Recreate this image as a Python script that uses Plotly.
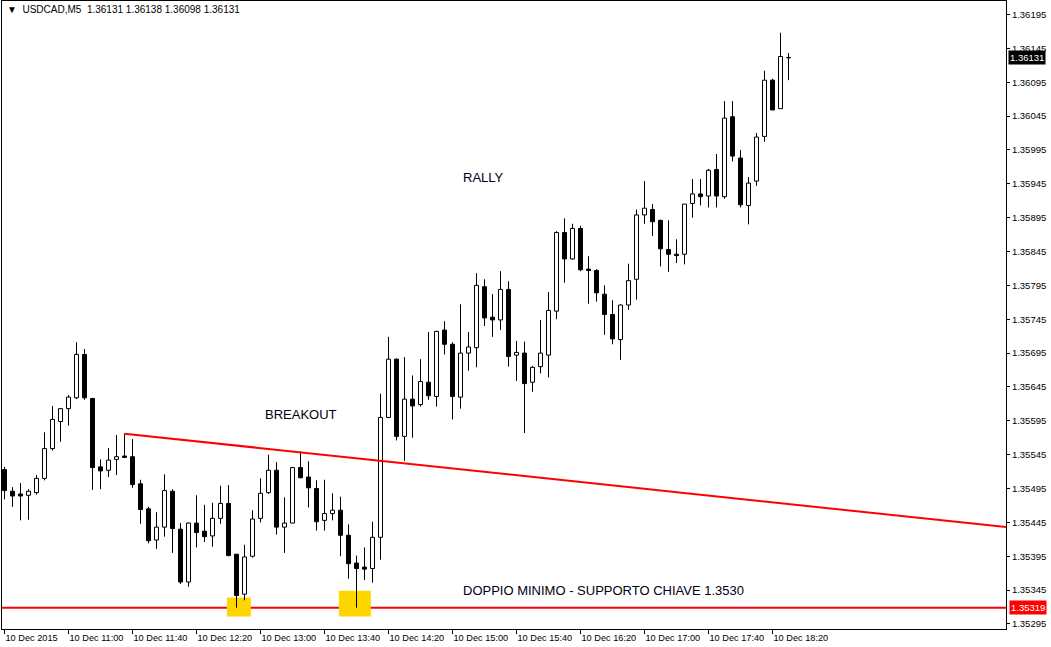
import plotly.graph_objects as go

symbol = "USDCAD,M5"

opens = [1.35523, 1.35491, 1.35487, 1.35485, 1.35489, 1.35510, 1.35554, 1.35594, 1.35613, 1.35629,
         1.35693, 1.35628, 1.35527, 1.35522, 1.35538, 1.35543, 1.35542, 1.35502, 1.35465, 1.35419,
         1.35438, 1.35491, 1.35435, 1.35357, 1.35444, 1.35432, 1.35425, 1.35451, 1.35473, 1.35398,
         1.35339, 1.35395, 1.35451, 1.35489, 1.35522, 1.35438, 1.35444, 1.35526, 1.35512, 1.35495,
         1.35448, 1.35458, 1.35463, 1.35426, 1.35385, 1.35379, 1.35377, 1.35423, 1.35600, 1.35686,
         1.35572, 1.35627, 1.35619, 1.35652, 1.35631, 1.35729, 1.35708, 1.35630, 1.35695, 1.35703,
         1.35793, 1.35748, 1.35744, 1.35789, 1.35692, 1.35695, 1.35652, 1.35675, 1.35692, 1.35757,
         1.35873, 1.35834, 1.35879, 1.35819, 1.35817, 1.35782, 1.35752, 1.35715, 1.35766, 1.35804,
         1.35899, 1.35907, 1.35891, 1.35848, 1.35841, 1.35841, 1.35916, 1.35930, 1.35927, 1.35966,
         1.35926, 1.36044, 1.35983, 1.35913, 1.35949, 1.36015, 1.36098, 1.36056, 1.36131]
highs = [1.35527, 1.35497, 1.35503, 1.35494, 1.35515, 1.35578, 1.35617, 1.35614, 1.35633, 1.35711,
         1.35701, 1.35629, 1.35538, 1.35555, 1.35574, 1.35576, 1.35568, 1.35508, 1.35468, 1.35460,
         1.35516, 1.35494, 1.35444, 1.35445, 1.35485, 1.35471, 1.35474, 1.35499, 1.35500, 1.35398,
         1.35412, 1.35463, 1.35510, 1.35545, 1.35534, 1.35482, 1.35527, 1.35550, 1.35535, 1.35507,
         1.35508, 1.35488, 1.35483, 1.35442, 1.35396, 1.35408, 1.35446, 1.35635, 1.35719, 1.35687,
         1.35689, 1.35662, 1.35686, 1.35726, 1.35728, 1.35742, 1.35711, 1.35767, 1.35726, 1.35813,
         1.35804, 1.35782, 1.35816, 1.35801, 1.35713, 1.35712, 1.35676, 1.35744, 1.35785, 1.35875,
         1.35894, 1.35886, 1.35883, 1.35838, 1.35819, 1.35795, 1.35773, 1.35767, 1.35827, 1.35907,
         1.35949, 1.35915, 1.35892, 1.35891, 1.35863, 1.35915, 1.35952, 1.35952, 1.35967, 1.35989,
         1.36067, 1.36067, 1.35995, 1.35955, 1.36020, 1.36112, 1.36100, 1.36168, 1.36138]
lows = [1.35479, 1.35468, 1.35448, 1.35449, 1.35486, 1.35507, 1.35551, 1.35564, 1.35588, 1.35627,
        1.35626, 1.35493, 1.35494, 1.35512, 1.35515, 1.35540, 1.35496, 1.35443, 1.35414, 1.35406,
        1.35424, 1.35400, 1.35354, 1.35350, 1.35408, 1.35416, 1.35409, 1.35443, 1.35395, 1.35319,
        1.35330, 1.35393, 1.35445, 1.35487, 1.35427, 1.35400, 1.35444, 1.35510, 1.35467, 1.35433,
        1.35433, 1.35448, 1.35395, 1.35362, 1.35319, 1.35360, 1.35356, 1.35390, 1.35599, 1.35566,
        1.35536, 1.35570, 1.35616, 1.35626, 1.35616, 1.35693, 1.35597, 1.35613, 1.35669, 1.35674,
        1.35735, 1.35719, 1.35729, 1.35675, 1.35654, 1.35577, 1.35638, 1.35665, 1.35659, 1.35745,
        1.35799, 1.35833, 1.35816, 1.35768, 1.35771, 1.35722, 1.35708, 1.35685, 1.35759, 1.35774,
        1.35886, 1.35868, 1.35823, 1.35815, 1.35828, 1.35826, 1.35895, 1.35913, 1.35910, 1.35910,
        1.35923, 1.35978, 1.35910, 1.35885, 1.35942, 1.36007, 1.36054, 1.36056, 1.36098]
closes = [1.35492, 1.35484, 1.35484, 1.35491, 1.35510, 1.35554, 1.35597, 1.35613, 1.35630, 1.35693,
          1.35629, 1.35526, 1.35521, 1.35537, 1.35542, 1.35541, 1.35501, 1.35464, 1.35418, 1.35438,
          1.35492, 1.35436, 1.35357, 1.35444, 1.35430, 1.35424, 1.35451, 1.35473, 1.35396, 1.35337,
          1.35394, 1.35450, 1.35488, 1.35522, 1.35438, 1.35444, 1.35526, 1.35511, 1.35496, 1.35446,
          1.35458, 1.35463, 1.35426, 1.35384, 1.35377, 1.35376, 1.35423, 1.35600, 1.35686, 1.35572,
          1.35627, 1.35617, 1.35653, 1.35632, 1.35727, 1.35708, 1.35631, 1.35695, 1.35704, 1.35795,
          1.35747, 1.35744, 1.35789, 1.35690, 1.35696, 1.35650, 1.35674, 1.35695, 1.35758, 1.35873,
          1.35834, 1.35879, 1.35818, 1.35817, 1.35784, 1.35752, 1.35716, 1.35766, 1.35802, 1.35899,
          1.35909, 1.35889, 1.35849, 1.35841, 1.35839, 1.35915, 1.35930, 1.35926, 1.35965, 1.35927,
          1.36042, 1.35986, 1.35914, 1.35946, 1.36014, 1.36098, 1.36054, 1.36133, 1.36131]

x_tick_index = [0, 8, 16, 24, 32, 40, 48, 56, 64, 72, 80, 88, 96]
x_tick_labels = ["10 Dec 2015", "10 Dec 11:00", "10 Dec 11:40", "10 Dec 12:20", "10 Dec 13:00",
                 "10 Dec 13:40", "10 Dec 14:20", "10 Dec 15:00", "10 Dec 15:40", "10 Dec 16:20",
                 "10 Dec 17:00", "10 Dec 17:40", "10 Dec 18:20"]
y_tick_values = [1.35295, 1.35345, 1.35395, 1.35445, 1.35495, 1.35545, 1.35595, 1.35645, 1.35695,
                 1.35745, 1.35795, 1.35845, 1.35895, 1.35945, 1.35995, 1.36045, 1.36095, 1.36145,
                 1.36195]

support_level = 1.35319
trend_x = [15, 125.25]
trend_y = [1.35576, 1.35438]
double_bottom_idx = [29, 44]

n = len(opens)
xs = list(range(n))

# bodies
body_base = []
body_h = []
body_fill = []
min_h = 0.000004
for o, c in zip(opens, closes):
    lo, hi = min(o, c), max(o, c)
    h = max(hi - lo, min_h)
    body_base.append(lo)
    body_h.append(h)
    body_fill.append("#ffffff" if c >= o else "#000000")

# wicks (split into upper and lower parts so they do not cross the bodies)
wx, wy = [], []
for i in xs:
    top = max(opens[i], closes[i])
    bot = min(opens[i], closes[i])
    if highs[i] > top:
        wx += [i, i, None]
        wy += [top, highs[i], None]
    if lows[i] < bot:
        wx += [i, i, None]
        wy += [bot, lows[i], None]

fig = go.Figure()
fig.add_trace(go.Scatter(x=wx, y=wy, mode="lines", line=dict(color="black", width=1),
                         hoverinfo="skip", showlegend=False))
fig.add_trace(go.Bar(x=xs, y=body_h, base=body_base, width=0.5,
                     marker=dict(color=body_fill, line=dict(color="black", width=1)),
                     showlegend=False))
fig.add_trace(go.Scatter(x=trend_x, y=trend_y, mode="lines", line=dict(color="#ff0000", width=2),
                         hoverinfo="skip", showlegend=False))

shapes = []
# yellow highlight boxes at the double bottom
shapes.append(dict(type="rect", xref="x", yref="y", x0=double_bottom_idx[0] - 1.2, x1=double_bottom_idx[0] + 1.8,
                   y0=1.35306, y1=1.35334, fillcolor="#ffd700", line=dict(width=0), layer="below"))
shapes.append(dict(type="rect", xref="x", yref="y", x0=double_bottom_idx[1] - 2.2, x1=double_bottom_idx[1] + 1.8,
                   y0=1.35306, y1=1.35344, fillcolor="#ffd700", line=dict(width=0), layer="below"))
shapes.append(dict(type="line", xref="paper", yref="y", x0=0, x1=1, y0=support_level, y1=support_level,
                   line=dict(color="#ff0000", width=2), layer="below"))

font_axis = "Liberation Sans, Arial, sans-serif"
annotations = [
    dict(xref="paper", yref="paper", x=0.003, y=0.999, xanchor="left", yanchor="top", showarrow=False,
         text="\u25BC  " + symbol + "\u00A0\u00A0" + " ".join(f"{v:.5f}" for v in (opens[-1], highs[-1], lows[-1], closes[-1])),
         font=dict(family=font_axis, size=10, color="black")),
    dict(x=59.9, y=1.35955, xref="x", yref="y", text="RALLY", showarrow=False,
         font=dict(family=font_axis, size=13, color="#000010")),
    dict(x=37.0, y=1.35605, xref="x", yref="y", text="BREAKOUT", showarrow=False,
         font=dict(family=font_axis, size=13, color="#000010")),
    dict(x=74.9, y=1.35345, xref="x", yref="y", text="DOPPIO MINIMO - SUPPORTO CHIAVE 1.3530", showarrow=False,
         font=dict(family=font_axis, size=13, color="#000010")),
    dict(xref="paper", yref="y", x=1, y=closes[-1], xanchor="left", xshift=2, text=f"{closes[-1]:.5f}",
         showarrow=False, bgcolor="#000000", borderpad=1, font=dict(family=font_axis, size=9.5, color="white")),
    dict(xref="paper", yref="y", x=1, y=support_level, xanchor="left", xshift=3, text=f"{support_level:.5f}",
         showarrow=False, bgcolor="#ff0000", borderpad=1, font=dict(family=font_axis, size=9.5, color="white")),
]

fig.update_layout(
    width=1051, height=647,
    margin=dict(l=2, r=45, t=1, b=18),
    paper_bgcolor="white", plot_bgcolor="white",
    barmode="overlay",
    shapes=shapes, annotations=annotations,
    showlegend=False,
    xaxis=dict(range=[-0.3125, 125.1875], showgrid=False, zeroline=False, automargin=False,
               showline=True, mirror=True, linecolor="black", linewidth=1,
               tickmode="array", tickvals=x_tick_index, ticktext=x_tick_labels, tickangle=0,
               ticks="outside", ticklen=4, tickcolor="black", ticklabelposition="outside right",
               tickfont=dict(family=font_axis, size=9.2, color="black")),
    yaxis=dict(range=[1.352876, 1.362149], side="right", showgrid=False, zeroline=False, automargin=False,
               showline=True, mirror=True, linecolor="black", linewidth=1,
               tickmode="array", tickvals=y_tick_values, ticktext=[f"{v:.5f}" for v in y_tick_values],
               ticks="outside", ticklen=3, tickcolor="black",
               tickfont=dict(family=font_axis, size=9.5, color="black")),
)

fig.write_html("out.html", config={"displayModeBar": False},
               post_script="document.body.style.margin='0';document.body.style.padding='0';")
